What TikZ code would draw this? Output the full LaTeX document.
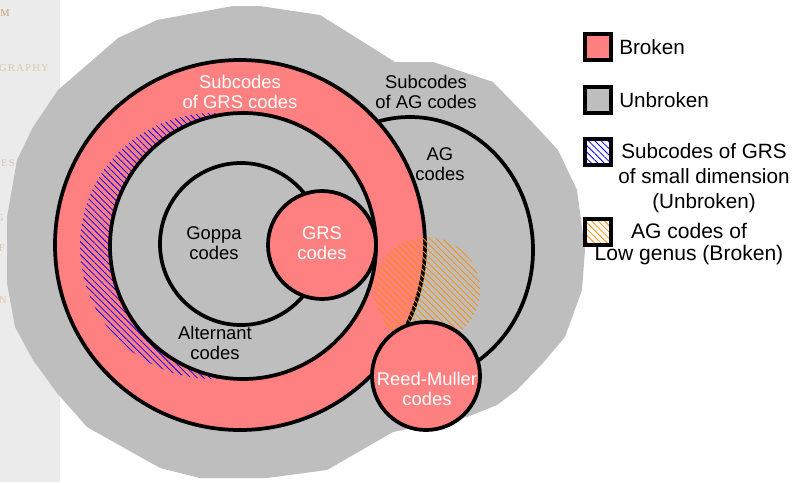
\documentclass[tikz,border=0pt]{standalone}
\usepackage{fontspec}
\newfontfamily\labelfont{Liberation Sans}
\newfontfamily\sidefont[LetterSpace=12]{Liberation Serif}
\usetikzlibrary{positioning,patterns.meta}
\definecolor{brokenpink}{RGB}{255,128,128}
\definecolor{unbrokengray}{RGB}{190,190,190}
\definecolor{sidebar}{RGB}{235,235,235}
\definecolor{sidetext}{RGB}{222,198,170}
\definecolor{sidedark}{RGB}{200,160,110}
\definecolor{hatchorange}{RGB}{255,140,0}

\begin{document}
\begin{tikzpicture}[
  x=0.75pt, y=-0.75pt,
  font=\labelfont,
  edge/.style={draw=black, line width=2.8pt},
  broken/.style={edge, fill=brokenpink},
  unbroken/.style={edge, fill=unbrokengray},
  hatch/.style={pattern={Lines[angle=-45,distance=3.4pt,line width=0.6pt]}},
  lbl/.style={align=center, inner sep=0pt, font=\labelfont\fontsize{13.8}{15}\selectfont},
  wlbl/.style={lbl, text=white},
  keybox/.style={draw, line width=3pt, minimum size=19.5pt, inner sep=0pt},
  keytext/.style={align=center, inner sep=0pt, font=\labelfont\fontsize{15.5}{19}\selectfont},
  side/.style={anchor=east, inner sep=0pt, text=sidetext, font=\sidefont\fontsize{7.9}{9}\selectfont}
]
\useasboundingbox (0,0) rectangle (795,482);
\fill[sidebar] (0,0) rectangle (60,482);
\node[side, text=sidedark] (sm) at (10,13) {M};
\node[side] (sgraphy) at (49,68) {GRAPHY};
\node[side] (sdes) at (15,163) {DES};
\node[side] (sg) at (4,218) {G};
\node[side] (sf) at (5,248) {F};
\node[side] (sn) at (7,300) {N};
% unbroken background
\fill[unbrokengray] (58,90) -- (118,38) -- (157,20) -- (233,6) -- (260,6) -- (320,15)
  -- (360,40) -- (395,62) -- (433,62) -- (493,82) -- (533,123) -- (558,150)
  -- (577,190) -- (585,250) -- (582,290) -- (565,337) -- (543,363) -- (517,390)
  -- (497,405) -- (467,417) -- (393,432) -- (327,470) -- (267,478) -- (200,478)
  -- (160,468) -- (87,427) -- (57,393) -- (33,360) -- (15,327) -- (7,283)
  -- (7,217) -- (17,160) -- (33,127) -- cycle;
% AG codes
\draw[unbroken] (410,250) ellipse [x radius=123, y radius=133];
% subcodes of GRS
\draw[broken] (240,245) circle (185);
\fill[hatch, pattern color=blue] (213,246) circle (133);
\draw[unbroken] (243,246) circle (133);
\draw[unbroken] (241,244) circle (81);
\draw[broken] (322,245) circle (54);
% low genus
\fill[hatch, pattern color=hatchorange] (427,290) circle (53);
\draw[broken] (426,376) circle (54);
% labels
\node[wlbl] (lsubgrs) at (240,92) {Subcodes\\of GRS codes};
\node[lbl] (lsubag) at (426,92) {Subcodes\\of AG codes};
\node[lbl] (lag) at (440,164) {AG\\codes};
\node[lbl] (lgoppa) at (214,243) {Goppa\\codes};
\node[wlbl] (lgrs) at (322,243) {GRS\\codes};
\node[lbl] (lalt) at (215,343) {Alternant\\codes};
\node[wlbl] (lrm) at (427,389) {Reed-Muller\\codes};
% legend
\node[keybox, fill=brokenpink] (kbroken) at (598,47) {};
\node[keytext, right=4.5pt of kbroken] (tbroken) {Broken};
\node[keybox, fill=unbrokengray] (kunbroken) at (598,100) {};
\node[keytext, right=4.5pt of kunbroken] (tunbroken) {Unbroken};
\node[keybox, hatch, pattern color=blue] (ksmall) at (598,152) {};
\node[keytext] (tsmall) at (704,178) {Subcodes of GRS\\of small dimension\\(Unbroken)};
\node[keybox, hatch, pattern color=hatchorange] (klow) at (598,232) {};
\node[keytext, font=\labelfont\fontsize{15.8}{16.5}\selectfont] (tlow) at (689,244) {AG codes of\\Low genus (Broken)};
\end{tikzpicture}
\end{document}
